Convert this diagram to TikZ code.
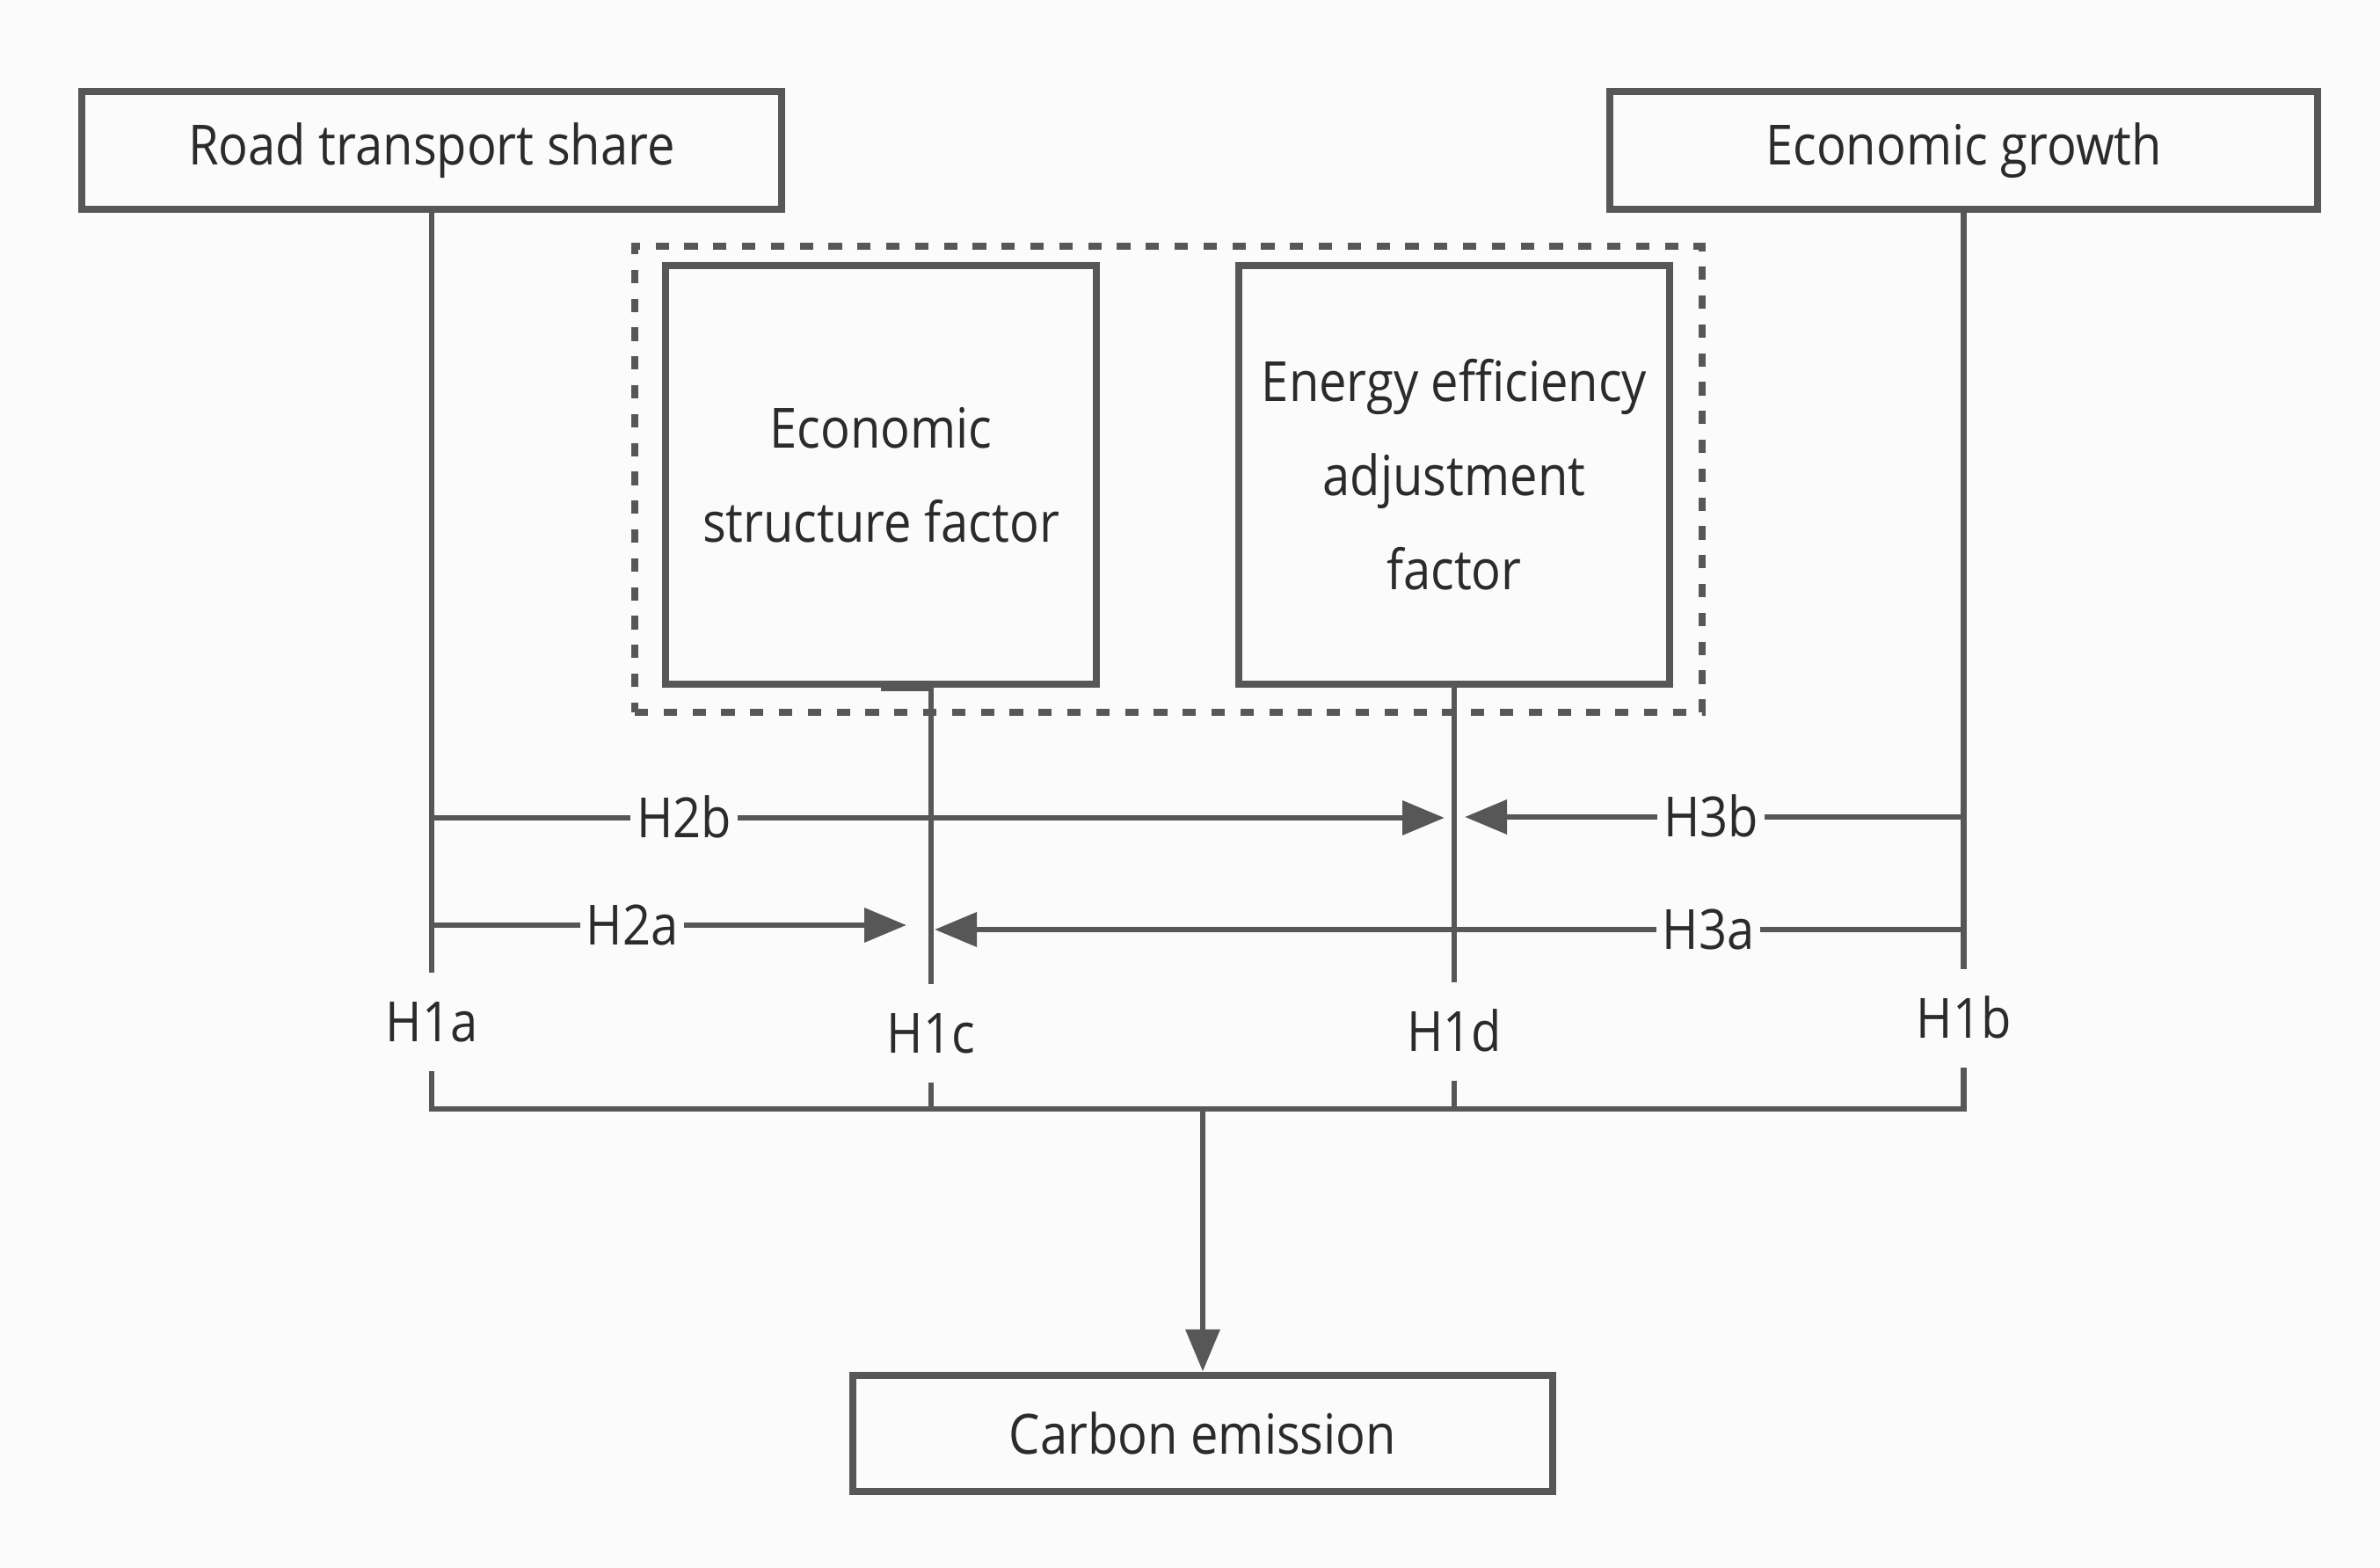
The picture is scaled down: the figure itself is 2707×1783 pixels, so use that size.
\documentclass[tikz,border=0pt]{standalone}
\usepackage{fontspec}
\setmainfont{Open Sans}[FakeStretch=0.89]
\usetikzlibrary{arrows.meta}
\definecolor{bg}{HTML}{FBFBFB}
\definecolor{lc}{HTML}{575757}
\definecolor{tx}{HTML}{2B2B2B}
\newcommand\diafont{\fontsize{15.75}{26.75}\selectfont}
\begin{document}
\begin{tikzpicture}[x=0.25pt,y=-0.25pt,
  box/.style={draw=lc, line width=2.2pt, fill=bg, text=tx, inner sep=0pt, align=center, font=\diafont},
  ln/.style={draw=lc, line width=1.7pt},
  arr/.style={ln, -{Triangle[length=12pt,width=9.5pt]}},
  lab/.style={fill=bg, text=tx, font=\diafont, inner xsep=1.5pt, inner ysep=0pt, text height=11.25pt, text depth=0pt},
  hlab/.style={lab, inner ysep=8.1pt}]
\fill[bg] (0,0) rectangle (2707,1783);
\useasboundingbox (0,0) rectangle (2707,1783);
% boxes
\node[box, minimum width=199pt, minimum height=33.5pt] (rts) at (491,171) {Road transport share};
\node[box, minimum width=201.25pt, minimum height=33.5pt] (egr) at (2233.5,171) {Economic growth};
\node[draw=lc, line width=1.9pt, dash pattern=on 3.8pt off 4.4pt, minimum width=303.5pt, minimum height=132.5pt, inner sep=0pt] (grp) at (1329,545) {};
\node[box, minimum width=122.5pt, minimum height=119pt] (esf) at (1002,540) {Economic\\structure factor};
\node[box, minimum width=122.5pt, minimum height=119pt] (eef) at (1654,540) {Energy efficiency\\adjustment\\factor};
\node[box, minimum width=199pt, minimum height=33pt] (ce) at (1368,1630) {Carbon emission};
% labels
\node[lab] (h2b) at (778,930) {H2b};
\node[lab] (h2a) at (719,1052) {H2a};
\node[lab] (h3b) at (1946,929) {H3b};
\node[lab] (h3a) at (1943,1057) {H3a};
\node[hlab] (h1a) at (491,1162) {H1a};
\node[hlab] (h1c) at (1059,1175) {H1c};
\node[hlab] (h1d) at (1654,1173) {H1d};
\node[hlab] (h1b) at (2233.5,1158) {H1b};
\coordinate (bus) at (1368,1261);
\coordinate (t2b) at (1643,930);
\coordinate (t2a) at (1031,1052);
\coordinate (t3b) at (1666,929);
\coordinate (t3a) at (1063,1057);
% verticals
\draw[ln] (rts) -- (rts |- h1a.north);
\draw[ln] (egr) -- (egr |- h1b.north);
\draw[ln] (esf.south) -| (h1c.north);
\draw[ln] (eef) -- (eef |- h1d.north);
\draw[ln] (rts |- h1a.south) -- (rts |- bus) -- (egr |- bus) -- (egr |- h1b.south);
\draw[ln] (h1c.south) -- (h1c.south |- bus);
\draw[ln] (h1d.south) -- (h1d.south |- bus);
% horizontals
\draw[ln] (rts |- h2b) -- (h2b);
\draw[arr] (h2b) -- (t2b);
\draw[ln] (rts |- h2a) -- (h2a);
\draw[arr] (h2a) -- (t2a);
\draw[ln] (egr |- h3b) -- (h3b);
\draw[arr] (h3b) -- (t3b);
\draw[ln] (egr |- h3a) -- (h3a);
\draw[arr] (h3a) -- (t3a);
\draw[arr] (bus) -- (ce);
\end{tikzpicture}
\end{document}
